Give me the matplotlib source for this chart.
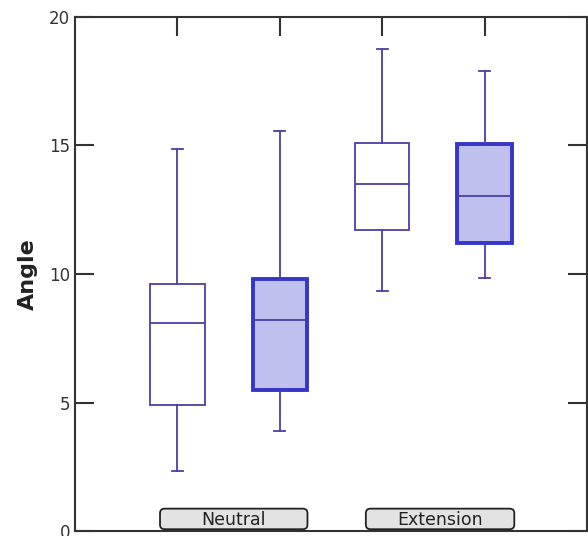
import matplotlib.pyplot as plt
from matplotlib.patches import FancyBboxPatch
import numpy as np

groups = ["Neutral", "Extension"]
positions = [1, 2, 3, 4]
whislo = [2.35, 3.9, 9.35, 9.85]
q1 = [4.9, 5.5, 11.7, 11.2]
med = [8.1, 8.2, 13.5, 13.05]
q3 = [9.6, 9.8, 15.1, 15.05]
whishi = [14.85, 15.55, 18.75, 17.9]
filled = [False, True, False, True]

line_col = "#4b3fa6"

fig = plt.figure(figsize=(5.88, 5.36), dpi=100)
ax = fig.add_axes([0.1276, 0.0093, 0.8707, 0.9590])

stats = []
for i in range(4):
    stats.append({"whislo": whislo[i], "q1": q1[i], "med": med[i],
                  "q3": q3[i], "whishi": whishi[i], "fliers": []})

for i, s in enumerate(stats):
    if filled[i]:
        boxprops = dict(facecolor="#c0c0ee", edgecolor="#3535c8", linewidth=2.8)
    else:
        boxprops = dict(facecolor="white", edgecolor=line_col, linewidth=1.3)
    ax.bxp([s], positions=[positions[i]], widths=0.53, patch_artist=True,
           showfliers=False, capwidths=[0.11],
           boxprops=boxprops,
           medianprops=dict(color=line_col, linewidth=1.3),
           whiskerprops=dict(color=line_col, linewidth=1.3),
           capprops=dict(color=line_col, linewidth=1.3))

ax.set_xlim(0, 5)
ax.set_ylim(0, 20)
ax.set_yticks([0, 5, 10, 15, 20])
ax.set_xticks(positions)
ax.set_xticklabels([])
ax.tick_params(axis="both", direction="in", length=14, width=1.5, color="#333333",
               top=True, right=True, bottom=False, labelsize=12, labelcolor="#333333")
for sp in ax.spines.values():
    sp.set_color("#333333")
    sp.set_linewidth(1.5)

ax.set_ylabel("Angle", fontsize=16, fontweight="bold", color="#222222", labelpad=8)

# group labels drawn as grey buttons sitting on the bottom axis
button_span = [(0.83, 2.27), (2.84, 4.29)]
for (x0, x1), g in zip(button_span, groups):
    btn = FancyBboxPatch((x0, 0.07), x1 - x0, 0.80,
                         boxstyle="round,pad=0,rounding_size=0.045",
                         mutation_aspect=4.0,
                         facecolor="#e3e3e3", edgecolor="#222222", linewidth=1.3,
                         zorder=5, clip_on=False)
    ax.add_patch(btn)
    ax.text((x0 + x1) / 2, 0.44, g, ha="center", va="center", fontsize=12.5,
            color="#222222", zorder=6)

fig.savefig("out.png", dpi=100)
